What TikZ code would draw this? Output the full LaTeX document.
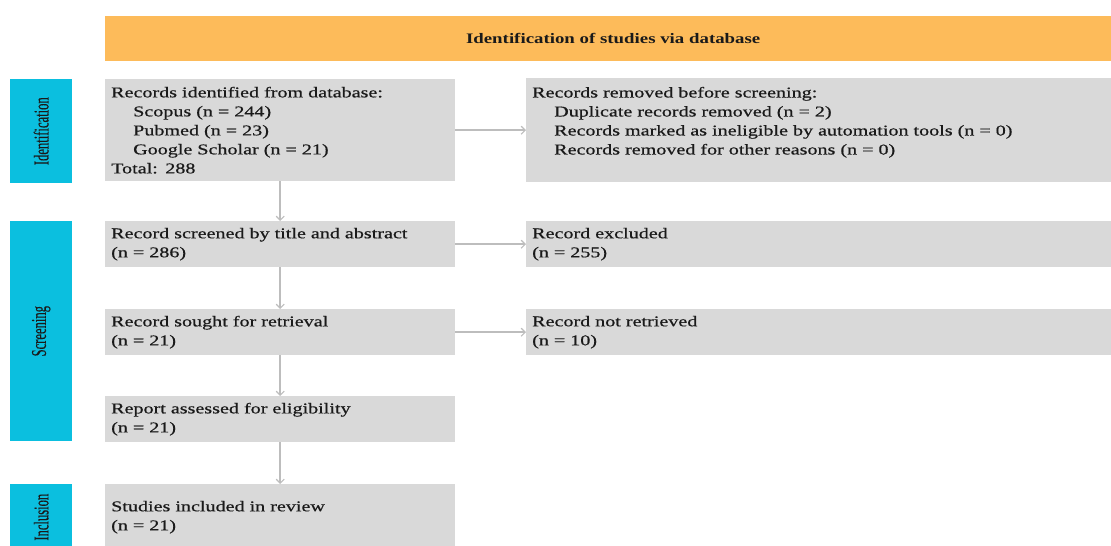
\documentclass[tikz,border=0pt]{standalone}
\usepackage{fontspec}
\setmainfont{Liberation Serif}[FakeStretch=1.34,FakeBold=0.6]
\newfontfamily\sidefont{Liberation Serif}[FakeBold=0.4]
\newfontfamily\bannerfont{Liberation Serif}[FakeStretch=1.3]
\usetikzlibrary{arrows.meta}
\definecolor{bannerorange}{HTML}{FDBB5A}
\definecolor{sidecyan}{HTML}{0BBFDF}
\definecolor{boxgray}{HTML}{D9D9D9}
\definecolor{arrowgray}{HTML}{BDBDBD}
\definecolor{txt}{HTML}{1A1A1A}
\tikzset{
  box/.style={fill=boxgray, draw=none, inner xsep=6pt, inner ysep=0pt, align=left, anchor=north west,
    font=\fontsize{15}{19}\selectfont, text=txt},
  side/.style={fill=sidecyan, draw=none, anchor=north west},
  sidelabel/.style={rotate=90, text=txt, font=\sidefont\fontsize{21}{21}\selectfont},
  flow/.style={draw=arrowgray, line width=1.6pt, -{Straight Barb[length=4pt,width=8pt,line width=1.2pt]}},
}
\newcommand{\ind}{\hspace*{22pt}}
\begin{document}
\begin{tikzpicture}[x=1pt,y=-1pt]
\useasboundingbox (0,0) rectangle (1111,546);
% banner
\node[fill=bannerorange, minimum width=1006pt, minimum height=45pt, anchor=north west, inner sep=0pt,
  font=\bannerfont\bfseries\fontsize{14.5}{16}\selectfont, text=txt] (banner) at (105,16) {\hspace*{10pt}Identification of studies via database};
% side boxes
\node[side, minimum width=62pt, minimum height=104pt, inner sep=0pt] (sid) at (10,79) {};
\node[sidelabel] at (sid.center) {\scalebox{0.6}[1]{Identification}};
\node[side, minimum width=62pt, minimum height=220pt, inner sep=0pt] (sscr) at (10,221) {};
\node[sidelabel] at (sscr.center) {\scalebox{0.6}[1]{Screening}};
\node[side, minimum width=62pt, minimum height=66pt, inner sep=0pt] (sinc) at (10,484) {};
\node[sidelabel] at (sinc.center) {\scalebox{0.6}[1]{Inclusion}};
% left column
\node[box, minimum width=350pt, minimum height=102pt, text width=338pt] (b1) at (105,79)
  {Records identified from database:\\ \ind Scopus (n = 244)\\ \ind Pubmed (n = 23)\\ \ind Google Scholar (n = 21)\\ Total: 288};
\node[box, minimum width=350pt, minimum height=46pt, text width=338pt] (b2) at (105,221)
  {Record screened by title and abstract\\ (n = 286)};
\node[box, minimum width=350pt, minimum height=46pt, text width=338pt] (b3) at (105,309)
  {Record sought for retrieval\\ (n = 21)};
\node[box, minimum width=350pt, minimum height=46pt, text width=338pt] (b4) at (105,396)
  {Report assessed for eligibility\\ (n = 21)};
\node[box, minimum width=350pt, minimum height=66pt, text width=338pt] (b5) at (105,484)
  {Studies included in review\\ (n = 21)};
% right column
\node[box, minimum width=585pt, minimum height=104pt, text width=573pt] (r1) at (526,78)
  {Records removed before screening:\\ \ind Duplicate records removed (n = 2)\\ \ind Records marked as ineligible by automation tools (n = 0)\\ \ind Records removed for other reasons (n = 0)\\ \mbox{}};
\node[box, minimum width=585pt, minimum height=46pt, text width=573pt] (r2) at (526,221)
  {Record excluded\\ (n = 255)};
\node[box, minimum width=585pt, minimum height=46pt, text width=573pt] (r3) at (526,309)
  {Record not retrieved\\ (n = 10)};
% connectors
\draw[flow] (b1.south) -- (b2.north);
\draw[flow] (b2.south) -- (b3.north);
\draw[flow] (b3.south) -- (b4.north);
\draw[flow] (b4.south) -- (b5.north);
\draw[flow] (b1.east) -- (b1.east -| r1.west);
\draw[flow] (b2.east) -- (r2.west);
\draw[flow] (b3.east) -- (r3.west);
\end{tikzpicture}
\end{document}
